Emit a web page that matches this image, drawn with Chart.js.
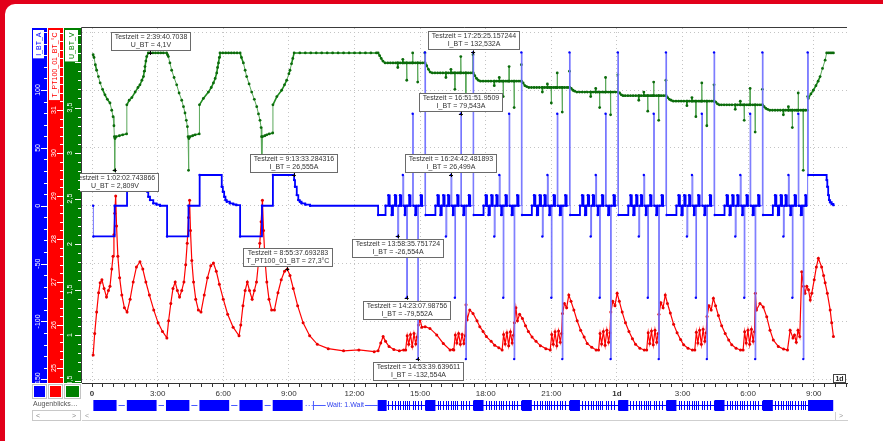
<!DOCTYPE html>
<html>
<head>
<meta charset="utf-8">
<title>Testzeit</title>
<script src="https://cdn.jsdelivr.net/npm/chart.js@4.4.1/dist/chart.umd.min.js"></script>
<style>
  html, body { margin: 0; padding: 0; background: #fff; }
  #frame { position: relative; width: 883px; height: 441px; background: #e2001a; overflow: hidden; }
  #card { position: absolute; left: 5px; top: 4px; width: 878px; height: 437px; background: #fff; border-top-left-radius: 10px; }
  #chart { position: absolute; left: 0; top: 0; }
</style>
</head>
<body>
<div id="frame"><div id="card"></div><canvas id="chart" width="883" height="441"></canvas></div>
<script>

const timeLabels = ['0', '3:00', '6:00', '9:00', '12:00', '15:00', '18:00', '21:00', '1d', '3:00', '6:00', '9:00'];
const boldLabels = ['0', '1d'];
const iTicks = [-150, -100, -50, 0, 50, 100, 150];
const tTicks = [25, 26, 27, 28, 29, 30, 31, 32];
const uTicks = [0.5, 1, 1.5, 2, 2.5, 3, 3.5, 4];

// U_BT [h, V]
const uBT = [
  [0.05,4.08],[0.09,4.05],[0.15,3.97],[0.21,3.91],[0.29,3.84],[0.37,3.77],[0.48,3.70],[0.59,3.64],[0.70,3.59],[0.82,3.55],[0.90,3.47],[0.96,3.40],[1.00,3.30],[1.02,3.18],[1.034,2.809],[1.05,3.16],[1.10,3.18],[1.25,3.19],[1.40,3.20],[1.58,3.21],[1.59,3.53],[1.70,3.58],[1.82,3.61],[1.97,3.67],[2.10,3.72],[2.19,3.75],[2.28,3.80],[2.35,3.84],[2.39,3.90],[2.42,3.95],[2.46,4.01],[2.50,4.06],[2.57,4.10],[2.661,4.10],[2.78,4.10],[2.90,4.10],[3.02,4.10],[3.14,4.10],[3.26,4.10],[3.41,4.10],
  [3.45,4.08],[3.49,4.06],[3.56,3.99],[3.64,3.91],[3.75,3.83],[3.87,3.75],[3.98,3.66],[4.10,3.58],[4.18,3.51],[4.25,3.44],[4.31,3.36],[4.36,3.29],[4.39,3.18],[4.41,2.81],[4.43,3.16],[4.48,3.18],[4.60,3.19],[4.71,3.20],[4.90,3.21],[4.91,3.53],[5.09,3.60],[5.32,3.67],[5.45,3.72],[5.55,3.77],[5.63,3.82],[5.70,3.88],[5.74,3.94],[5.78,3.99],[5.82,4.05],[5.85,4.10],[5.98,4.10],[6.11,4.10],[6.24,4.10],[6.37,4.10],[6.50,4.10],[6.63,4.10],[6.77,4.10],
  [6.83,4.05],[6.92,3.99],[7.00,3.91],[7.07,3.84],[7.18,3.76],[7.30,3.67],[7.42,3.59],[7.53,3.51],[7.61,3.43],[7.68,3.36],[7.73,3.28],[7.75,3.18],[7.77,2.81],[7.79,3.18],[7.90,3.19],[7.99,3.20],[8.10,3.21],[8.26,3.22],[8.27,3.53],[8.45,3.62],[8.67,3.69],[8.80,3.75],[8.90,3.80],[9.00,3.87],[9.05,3.91],[9.12,3.98],[9.18,4.04],[9.24,4.10],
  [9.50,4.10],[9.75,4.10],[10.00,4.10],[10.25,4.10],[10.50,4.10],[10.75,4.10],[11.00,4.10],[11.25,4.10],[11.50,4.10],[11.75,4.10],[12.00,4.10],[12.25,4.10],[12.50,4.10],[12.75,4.10],[13.00,4.10],
  [13.08,4.10],[13.15,4.07],[13.22,4.04],[13.30,4.01],[13.40,3.99],[13.52,3.99],[13.64,3.99],[13.76,3.99],[13.88,3.99],
  [13.97,3.99],[13.98,3.94],[13.99,3.99],[14.09,3.99],[14.20,3.99],[14.21,4.03],[14.22,3.99],[14.30,3.99],[14.38,3.99],[14.39,3.80],[14.40,3.99],[14.50,3.99],[14.58,3.99],[14.65,3.99],[14.66,4.10],[14.67,3.99],[14.78,3.99],[14.88,3.99],[14.89,3.78],[14.90,3.99],[15.00,3.99],[15.11,3.99],[15.21,3.99],[15.22,4.10],[15.23,3.99],[15.30,3.96],[15.38,3.92],[15.46,3.89],[15.56,3.88],[15.68,3.88],[15.80,3.88],[15.92,3.88],[16.04,3.88],
  [16.17,3.88],[16.18,3.83],[16.19,3.88],[16.29,3.88],[16.40,3.88],[16.41,3.92],[16.42,3.88],[16.50,3.88],[16.58,3.88],[16.59,3.70],[16.60,3.88],[16.70,3.88],[16.78,3.88],[16.85,3.88],[16.86,4.06],[16.87,3.88],[16.98,3.88],[17.08,3.88],[17.09,3.60],[17.10,3.88],[17.20,3.88],[17.31,3.88],[17.41,3.88],[17.42,4.08],[17.43,3.88],[17.50,3.85],[17.58,3.82],[17.66,3.80],[17.76,3.79],[17.88,3.79],[18.00,3.79],[18.12,3.79],[18.24,3.79],
  [18.38,3.79],[18.39,3.74],[18.40,3.79],[18.50,3.79],[18.61,3.79],[18.62,3.83],[18.63,3.79],[18.71,3.79],[18.79,3.79],[18.80,3.62],[18.81,3.79],[18.91,3.79],[18.99,3.79],[19.06,3.79],[19.07,3.95],[19.08,3.79],[19.19,3.79],[19.29,3.79],[19.30,3.50],[19.31,3.79],[19.41,3.79],[19.52,3.79],[19.62,3.79],[19.63,3.97],[19.64,3.79],[19.71,3.77],[19.79,3.74],[19.87,3.73],[19.97,3.72],[20.09,3.72],[20.21,3.72],[20.33,3.72],[20.45,3.72],
  [20.58,3.72],[20.59,3.67],[20.60,3.72],[20.70,3.72],[20.81,3.72],[20.82,3.76],[20.83,3.72],[20.91,3.72],[20.99,3.72],[21.00,3.55],[21.01,3.72],[21.11,3.72],[21.19,3.72],[21.26,3.72],[21.27,3.88],[21.28,3.72],[21.39,3.72],[21.49,3.72],[21.50,3.45],[21.51,3.72],[21.61,3.72],[21.72,3.72],[21.82,3.72],[21.83,3.90],[21.84,3.72],[21.91,3.71],[21.99,3.69],[22.07,3.68],[22.17,3.67],[22.29,3.67],[22.41,3.67],[22.53,3.67],[22.65,3.67],
  [22.79,3.67],[22.80,3.62],[22.81,3.67],[22.91,3.67],[23.02,3.67],[23.03,3.71],[23.04,3.67],[23.12,3.67],[23.20,3.67],[23.21,3.50],[23.22,3.67],[23.32,3.67],[23.40,3.67],[23.47,3.67],[23.48,3.83],[23.49,3.67],[23.60,3.67],[23.70,3.67],[23.71,3.42],[23.72,3.67],[23.82,3.67],[23.93,3.67],[24.03,3.67],[24.04,3.86],[24.05,3.67],[24.12,3.66],[24.20,3.64],[24.28,3.63],[24.38,3.63],[24.50,3.63],[24.62,3.63],[24.74,3.63],[24.86,3.63],
  [24.99,3.63],[25.00,3.58],[25.01,3.63],[25.11,3.63],[25.22,3.63],[25.23,3.67],[25.24,3.63],[25.32,3.63],[25.40,3.63],[25.41,3.46],[25.42,3.63],[25.52,3.63],[25.60,3.63],[25.67,3.63],[25.68,3.78],[25.69,3.63],[25.80,3.63],[25.90,3.63],[25.91,3.36],[25.92,3.63],[26.02,3.63],[26.13,3.63],[26.23,3.63],[26.24,3.80],[26.25,3.63],[26.32,3.61],[26.40,3.59],[26.48,3.58],[26.58,3.57],[26.70,3.57],[26.82,3.57],[26.94,3.57],[27.06,3.57],
  [27.19,3.57],[27.20,3.52],[27.21,3.57],[27.31,3.57],[27.42,3.57],[27.43,3.61],[27.44,3.57],[27.52,3.57],[27.60,3.57],[27.61,3.40],[27.62,3.57],[27.72,3.57],[27.80,3.57],[27.87,3.57],[27.88,3.77],[27.89,3.57],[28.00,3.57],[28.10,3.57],[28.11,3.30],[28.12,3.57],[28.22,3.57],[28.33,3.57],[28.43,3.57],[28.44,3.75],[28.45,3.57],[28.52,3.56],[28.60,3.54],[28.68,3.53],[28.78,3.53],[28.90,3.53],[29.02,3.53],[29.14,3.53],[29.26,3.53],
  [29.40,3.53],[29.41,3.48],[29.42,3.53],[29.52,3.53],[29.63,3.53],[29.64,3.57],[29.65,3.53],[29.73,3.53],[29.81,3.53],[29.82,3.36],[29.83,3.53],[29.93,3.53],[30.01,3.53],[30.08,3.53],[30.09,3.71],[30.10,3.53],[30.21,3.53],[30.31,3.53],[30.32,3.23],[30.33,3.53],[30.43,3.53],[30.54,3.53],[30.64,3.53],[30.65,3.70],[30.66,3.53],[30.73,3.51],[30.81,3.49],[30.89,3.48],[30.99,3.47],[31.11,3.47],[31.23,3.47],[31.35,3.47],[31.47,3.47],
  [31.60,3.47],[31.61,3.42],[31.62,3.47],[31.72,3.47],[31.83,3.47],[31.84,3.51],[31.85,3.47],[31.93,3.47],[32.01,3.47],[32.02,3.28],[32.03,3.47],[32.13,3.47],[32.21,3.47],[32.28,3.47],[32.29,3.66],[32.30,3.47],[32.41,3.47],[32.51,3.47],[32.52,2.81],[32.53,3.47],[32.62,3.47],[32.71,3.47],[32.72,3.62],[32.75,3.60],[32.87,3.65],[32.98,3.69],[33.10,3.74],[33.20,3.79],[33.29,3.84],[33.40,3.93],[33.52,4.02],[33.59,4.10],[33.67,4.10],[33.75,4.10],[33.83,4.10],[33.90,4.10]
];

// I_BT [h, A] (Stufenverlauf)
const iBT = [
  [0.05,0],[0.06,-26.55],[1.034,0],[1.60,26.55],[2.50,16.4],[2.53,12.1],[2.57,7.8],[2.65,4.9],[2.80,2.1],[2.95,1.0],[3.11,0],
  [3.43,-26.55],[4.41,0],[4.92,26.55],[5.93,16.4],[5.98,12.1],[6.04,7.8],[6.10,4.9],[6.16,3.5],[6.30,2.1],[6.46,1.2],[6.60,0.5],
  [6.77,-26.55],[7.77,0],[8.27,26.55],[9.226,26.555],[9.24,22.2],[9.28,16.4],[9.36,9.2],[9.43,4.9],[9.50,3.5],[9.58,2.1],[9.75,1.0],[9.97,0],
  [13.08,-8],[13.42,0],[13.55,9],[13.61,0],[13.70,-8],[13.76,0],[13.85,9],[13.91,0],
  [13.976,-26.554],[14.02,0],[14.08,9],[14.14,0],[14.21,26.5],[14.25,0],[14.30,-8],[14.36,0],[14.386,-79.552],[14.42,0],[14.50,9],[14.56,0],[14.66,79.54],[14.69,0],[14.78,-8],[14.84,0],[14.894,-132.554],[14.92,0],[15.03,9],[15.09,0],[15.22,132.53],[15.25,-8],[15.70,0],[15.80,9],[15.86,0],[15.93,-8],[15.99,0],[16.06,9],[16.12,0],
  [16.18,-26.55],[16.22,0],[16.28,9],[16.34,0],[16.412,26.499],[16.45,0],[16.50,-8],[16.56,0],[16.59,-79.55],[16.62,0],[16.70,9],[16.76,0],[16.864,79.543],[16.89,0],[16.98,-8],[17.04,0],[17.09,-132.55],[17.12,0],[17.23,9],[17.29,0],[17.424,132.532],[17.45,-8],[17.90,0],[18.00,9],[18.06,0],[18.13,-8],[18.19,0],[18.26,9],[18.32,0],
  [18.39,-26.55],[18.43,0],[18.49,9],[18.55,0],[18.62,26.5],[18.66,0],[18.71,-8],[18.77,0],[18.80,-79.55],[18.83,0],[18.91,9],[18.97,0],[19.07,79.54],[19.10,0],[19.19,-8],[19.25,0],[19.30,-132.55],[19.33,0],[19.44,9],[19.50,0],[19.63,132.53],[19.66,-8],[20.11,0],[20.21,9],[20.27,0],[20.34,-8],[20.40,0],[20.47,9],[20.53,0],
  [20.59,-26.55],[20.63,0],[20.69,9],[20.75,0],[20.82,26.5],[20.86,0],[20.91,-8],[20.97,0],[21.00,-79.55],[21.03,0],[21.11,9],[21.17,0],[21.27,79.54],[21.30,0],[21.39,-8],[21.45,0],[21.50,-132.55],[21.53,0],[21.64,9],[21.70,0],[21.83,132.53],[21.86,-8],[22.31,0],[22.41,9],[22.47,0],[22.54,-8],[22.60,0],[22.67,9],[22.73,0],
  [22.80,-26.55],[22.84,0],[22.90,9],[22.96,0],[23.03,26.5],[23.07,0],[23.12,-8],[23.18,0],[23.21,-79.55],[23.24,0],[23.32,9],[23.38,0],[23.48,79.54],[23.51,0],[23.60,-8],[23.66,0],[23.71,-132.55],[23.74,0],[23.85,9],[23.91,0],[24.04,132.53],[24.07,-8],[24.52,0],[24.62,9],[24.68,0],[24.75,-8],[24.81,0],[24.88,9],[24.94,0],
  [25.00,-26.55],[25.04,0],[25.10,9],[25.16,0],[25.23,26.5],[25.27,0],[25.32,-8],[25.38,0],[25.41,-79.55],[25.44,0],[25.52,9],[25.58,0],[25.68,79.54],[25.71,0],[25.80,-8],[25.86,0],[25.91,-132.55],[25.94,0],[26.05,9],[26.11,0],[26.24,132.53],[26.27,-8],[26.72,0],[26.82,9],[26.88,0],[26.95,-8],[27.01,0],[27.08,9],[27.14,0],
  [27.20,-26.55],[27.24,0],[27.30,9],[27.36,0],[27.43,26.5],[27.47,0],[27.52,-8],[27.58,0],[27.61,-79.55],[27.64,0],[27.72,9],[27.78,0],[27.88,79.54],[27.91,0],[28.00,-8],[28.06,0],[28.11,-132.55],[28.14,0],[28.25,9],[28.31,0],[28.44,132.53],[28.47,-8],[28.92,0],[29.02,9],[29.08,0],[29.15,-8],[29.21,0],[29.28,9],[29.34,0],
  [29.41,-26.55],[29.45,0],[29.51,9],[29.57,0],[29.64,26.5],[29.68,0],[29.73,-8],[29.79,0],[29.82,-79.55],[29.85,0],[29.93,9],[29.99,0],[30.09,79.54],[30.12,0],[30.21,-8],[30.27,0],[30.32,-132.55],[30.35,0],[30.46,9],[30.52,0],[30.65,132.53],[30.68,-8],[31.13,0],[31.23,9],[31.29,0],[31.36,-8],[31.42,0],[31.49,9],[31.55,0],
  [31.61,-26.55],[31.65,0],[31.71,9],[31.77,0],[31.84,26.5],[31.88,0],[31.93,-8],[31.99,0],[32.02,-79.55],[32.05,0],[32.13,9],[32.19,0],[32.29,79.54],[32.32,0],[32.41,-8],[32.47,0],[32.52,-132.55],[32.55,0],[32.62,9],[32.66,0],[32.72,132.53],[32.75,26.55],[33.59,22.2],[33.62,16.4],[33.66,9.2],[33.70,4.9],[33.75,3.0],[33.82,1.5],[33.90,0.5]
];

// T_PT100_01_BT [h, °C]
const tBT = [
  [0.05,25.30],[0.12,25.80],[0.21,26.30],[0.30,26.75],[0.37,26.98],[0.45,27.05],[0.55,26.85],[0.66,26.65],[0.75,26.80],[0.82,26.90],[0.90,27.30],[0.96,27.60],[1.00,28.10],[1.04,28.60],[1.08,29.00],[1.12,28.30],[1.18,27.60],[1.26,27.10],[1.36,26.70],[1.48,26.40],[1.60,26.30],[1.74,26.60],[1.88,27.00],[2.03,27.35],[2.19,27.47],[2.32,27.30],[2.46,27.00],[2.62,26.70],[2.82,26.35],[3.02,26.05],[3.22,25.85],[3.42,25.70],
  [3.50,26.10],[3.60,26.50],[3.70,26.85],[3.80,27.00],[3.90,26.80],[4.00,26.65],[4.10,26.80],[4.20,27.00],[4.28,27.40],[4.35,27.90],[4.41,28.50],[4.46,28.90],[4.50,28.20],[4.56,27.50],[4.64,27.00],[4.74,26.60],[4.86,26.35],[4.98,26.30],[5.13,26.70],[5.28,27.10],[5.43,27.38],[5.55,27.44],[5.68,27.25],[5.82,26.95],[6.00,26.60],[6.20,26.25],[6.45,25.95],[6.72,25.75],
  [6.80,26.00],[6.90,26.45],[7.00,26.80],[7.10,27.00],[7.20,26.80],[7.32,26.60],[7.42,26.80],[7.52,27.00],[7.60,27.40],[7.67,27.90],[7.73,28.40],[7.79,28.90],[7.84,28.20],[7.91,27.50],[7.99,27.00],[8.09,26.60],[8.21,26.35],[8.34,26.35],[8.50,26.75],[8.65,27.05],[8.80,27.25],[8.927,27.30],[9.05,27.15],[9.20,26.85],[9.40,26.45],[9.65,26.05],[9.95,25.75],[10.30,25.55],[10.80,25.45],[11.50,25.40],[12.20,25.42],[12.90,25.38],
  [13.08,25.40],[13.20,25.58],[13.31,25.73],[13.42,25.62],[13.58,25.50],[13.80,25.43],[14.05,25.40],[14.25,25.42],
  [14.34,25.42],[14.41,25.75],[14.48,25.55],[14.56,25.78],[14.64,25.50],[14.72,25.80],[14.80,25.56],[14.86,25.72],[14.92,26.00],[15.00,26.12],[15.08,25.95],[15.23,25.96],[15.45,25.92],[15.76,25.77],[16.06,25.57],[16.37,25.42],[16.50,25.43],
  [16.54,25.42],[16.61,25.77],[16.68,25.58],[16.76,25.80],[16.84,25.55],[16.92,25.78],[17.00,25.57],[17.06,25.75],[17.10,26.47],[17.15,26.12],[17.27,26.35],[17.42,26.27],[17.60,26.10],[17.73,25.96],[17.88,25.85],[18.03,25.73],[18.25,25.62],[18.41,25.53],[18.60,25.47],
  [18.75,25.42],[18.82,25.78],[18.89,25.56],[18.97,25.82],[19.05,25.52],[19.13,25.84],[19.21,25.58],[19.27,25.76],[19.31,26.05],[19.38,26.40],[19.45,26.10],[19.55,26.25],[19.68,26.15],[19.82,25.98],[19.95,25.85],[20.12,25.72],[20.30,25.62],[20.50,25.52],[20.75,25.45],
  [20.95,25.42],[21.02,25.78],[21.09,25.55],[21.17,25.84],[21.25,25.52],[21.33,25.86],[21.41,25.60],[21.47,25.80],[21.51,26.27],[21.60,26.50],[21.70,26.40],[21.80,26.70],[21.90,26.55],[22.03,26.35],[22.18,26.10],[22.34,25.88],[22.50,25.72],[22.64,25.57],[22.85,25.48],[23.05,25.42],
  [23.16,25.42],[23.23,25.80],[23.30,25.56],[23.38,25.85],[23.46,25.53],[23.54,25.88],[23.62,25.60],[23.68,25.82],[23.72,26.30],[23.81,26.55],[23.91,26.45],[24.01,26.74],[24.11,26.55],[24.24,26.30],[24.39,26.05],[24.55,25.85],[24.71,25.68],[24.85,25.55],[25.05,25.46],[25.25,25.42],
  [25.36,25.42],[25.43,25.82],[25.50,25.57],[25.58,25.86],[25.66,25.54],[25.74,25.88],[25.82,25.60],[25.88,25.80],[25.92,26.25],[26.01,26.52],[26.11,26.40],[26.21,26.70],[26.31,26.50],[26.44,26.28],[26.59,26.02],[26.75,25.82],[26.91,25.66],[27.05,25.54],[27.25,25.46],[27.45,25.42],
  [27.56,25.42],[27.63,25.83],[27.70,25.58],[27.78,25.88],[27.86,25.55],[27.94,25.90],[28.02,25.62],[28.08,25.82],[28.12,26.20],[28.21,26.45],[28.31,26.35],[28.41,26.62],[28.51,26.45],[28.64,26.22],[28.79,25.98],[28.95,25.80],[29.11,25.65],[29.25,25.54],[29.45,25.46],[29.65,25.42],
  [29.77,25.42],[29.84,25.84],[29.91,25.58],[29.99,25.88],[30.07,25.55],[30.15,25.90],[30.23,25.62],[30.29,25.84],[30.33,26.74],[30.38,26.35],[30.54,26.50],[30.69,26.42],[30.85,26.19],[31.00,25.88],[31.15,25.65],[31.38,25.50],[31.62,25.44],[31.80,25.42],
  [31.92,25.88],[32.05,25.70],[32.12,25.77],[32.20,25.60],[32.28,25.88],[32.36,25.73],[32.45,27.24],[32.53,26.90],[32.60,26.74],[32.68,26.90],[32.76,26.82],[32.84,26.58],[32.91,26.74],[33.02,27.05],[33.12,27.35],[33.21,27.55],[33.36,27.35],[33.45,27.15],[33.52,26.98],[33.62,26.74],[33.75,26.35],[33.82,26.05],[33.90,25.73]
];

// Prüfschritte in der Zeitleiste [von, bis]
const stepBlocks = [[0.06,1.12],[1.59,2.95],[3.38,4.45],[4.91,6.27],[6.74,7.80],[8.26,9.63],[13.06,13.47],[15.24,15.70],[17.44,17.90],[19.65,20.11],[21.85,22.31],[24.06,24.52],[26.26,26.72],[28.46,28.92],[30.67,31.13],[32.74,33.89]];
const waitStep = { from: 10.1, to: 13.06, label: 'Wait: 1.Wait' };

// Cursor-Beschriftungen
const notes = [
  { t: 2.661, axis: 'yU', v: 4.1, below: false, lines: ['Testzeit = 2:39:40.7038', 'U_BT = 4,1V'] },
  { t: 1.034, axis: 'yU', v: 2.809, below: true, lines: ['Testzeit = 1:02:02.743866', 'U_BT = 2,809V'] },
  { t: 9.226, axis: 'yI', v: 26.555, below: false, lines: ['Testzeit = 9:13:33.284316', 'I_BT = 26,555A'] },
  { t: 8.927, axis: 'yT', v: 27.3, below: false, lines: ['Testzeit = 8:55:37.693283', 'T_PT100_01_BT = 27,3°C'] },
  { t: 13.976, axis: 'yI', v: -26.554, below: true, lines: ['Testzeit = 13:58:35.751724', 'I_BT = -26,554A'] },
  { t: 14.386, axis: 'yI', v: -79.552, below: true, lines: ['Testzeit = 14:23:07.98756', 'I_BT = -79,552A'] },
  { t: 14.894, axis: 'yI', v: -132.554, below: true, lines: ['Testzeit = 14:53:39.639611', 'I_BT = -132,554A'] },
  { t: 16.412, axis: 'yI', v: 26.499, below: false, lines: ['Testzeit = 16:24:42.481893', 'I_BT = 26,499A'] },
  { t: 16.864, axis: 'yI', v: 79.543, below: false, lines: ['Testzeit = 16:51:51.9509', 'I_BT = 79,543A'] },
  { t: 17.424, axis: 'yI', v: 132.532, below: false, lines: ['Testzeit = 17:25:25.157244', 'I_BT = 132,532A'] }
];

const FONT = "'Liberation Sans', Arial, sans-serif";
Chart.defaults.font.family = FONT;

const strips = [
  { id: 'yI', color: '#0000ff', title: 'I_BT_A', labels: iTicks },
  { id: 'yT', color: '#ff0000', title: 'T_PT100_01_BT_°C', labels: tTicks },
  { id: 'yU', color: '#008000', title: 'U_BT_V', labels: uTicks }
];

const xy = arr => arr.map(([x, y]) => ({ x, y }));
const labelAt = v => {
  const k = v / 3;
  return Math.abs(k - Math.round(k)) < 1e-6 ? (timeLabels[Math.round(k)] || '') : '';
};
// schmale senkrechte Sprünge werden dünn und hell gezeichnet
const thinJump = (minDy, light) => {
  const isJump = c => Math.abs(c.p1.x - c.p0.x) < 3 && Math.abs(c.p1.y - c.p0.y) > minDy;
  return {
    borderColor: c => isJump(c) ? light : undefined,
    borderWidth: c => isJump(c) ? 1 : undefined
  };
};

const chrome = {
  id: 'chrome',
  beforeDraw(chart) {
    const { ctx, chartArea: a } = chart;
    ctx.save();
    strips.forEach(st => {
      const s = chart.scales[st.id];
      ctx.fillStyle = st.color;
      ctx.fillRect(s.left, a.top, s.right - s.left - 1, a.bottom - a.top);
    });
    ctx.restore();
  },
  afterDraw(chart) {
    const { ctx, chartArea: a, scales } = chart;
    const sx = scales.x;
    ctx.save();

    // Achsenstreifen
    strips.forEach(st => {
      const s = scales[st.id];
      const w = s.right - s.left - 1;
      const r = s.right - 1;
      ctx.save();
      ctx.beginPath();
      ctx.rect(s.left, a.top, w, a.bottom - a.top);
      ctx.clip();
      ctx.strokeStyle = '#fff';
      ctx.lineWidth = 1;
      s.ticks.forEach(tk => {
        const y = Math.round(s.getPixelForValue(tk.value)) + 0.5;
        const major = st.labels.some(v => Math.abs(v - tk.value) < 1e-6);
        ctx.beginPath();
        ctx.moveTo(r, y);
        ctx.lineTo(r - (major ? 6 : 3), y);
        ctx.stroke();
      });
      ctx.font = '7px ' + FONT;
      const tw = ctx.measureText(st.title).width;
      const titleBottom = a.top + 2 + tw + 5;
      ctx.fillStyle = '#fff';
      ctx.textAlign = 'center';
      ctx.textBaseline = 'middle';
      st.labels.forEach(v => {
        const y = s.getPixelForValue(v);
        if (y < titleBottom + 8) return;
        ctx.save();
        ctx.translate(s.left + 6.5, y);
        ctx.rotate(-Math.PI / 2);
        ctx.fillText(String(v).replace('.', ','), 0, 0);
        ctx.restore();
      });
      ctx.fillStyle = '#fff';
      ctx.fillRect(s.left + 1, a.top + 2, w - 4, tw + 5);
      ctx.save();
      ctx.translate(s.left + 1 + (w - 4) / 2, titleBottom - 2.5);
      ctx.rotate(-Math.PI / 2);
      ctx.fillStyle = st.color;
      ctx.textAlign = 'left';
      ctx.fillText(st.title, 0, 0.5);
      ctx.restore();
      ctx.restore();
    });

    // Rahmen des Diagramms
    ctx.strokeStyle = '#3a3a3a';
    ctx.lineWidth = 1;
    ctx.beginPath();
    ctx.moveTo(a.left - 0.5, a.bottom);
    ctx.lineTo(a.left - 0.5, a.top - 0.5);
    ctx.lineTo(a.right, a.top - 0.5);
    ctx.stroke();

    // Cursor-Boxen
    ctx.save();
    ctx.beginPath();
    ctx.rect(a.left - 2, a.top, a.right - a.left + 2, a.bottom - a.top);
    ctx.clip();
    ctx.font = '7px ' + FONT;
    notes.forEach(n => {
      const px = sx.getPixelForValue(n.t);
      const py = scales[n.axis].getPixelForValue(n.v);
      const w = Math.ceil(Math.max(...n.lines.map(l => ctx.measureText(l).width))) + 6;
      const h = 18;
      const bx = Math.round(px - w / 2) + 0.5;
      const by = n.below ? Math.round(py + 3) + 0.5 : Math.round(py - 3 - h) + 0.5;
      ctx.fillStyle = '#fff';
      ctx.fillRect(bx, by, w, h);
      ctx.strokeStyle = '#6a6a6a';
      ctx.strokeRect(bx, by, w, h);
      ctx.fillStyle = '#333';
      ctx.textAlign = 'center';
      ctx.textBaseline = 'middle';
      ctx.fillText(n.lines[0], bx + w / 2, by + 5);
      ctx.fillText(n.lines[1], bx + w / 2, by + 13);
      ctx.strokeStyle = '#000';
      ctx.beginPath();
      ctx.moveTo(px - 2, Math.round(py) + 0.5);
      ctx.lineTo(px + 2, Math.round(py) + 0.5);
      ctx.moveTo(Math.round(px) + 0.5, py - 2);
      ctx.lineTo(Math.round(px) + 0.5, py + 2);
      ctx.stroke();
    });
    ctx.restore();

    // "1d"-Kästchen rechts unten
    ctx.fillStyle = '#fff';
    ctx.fillRect(a.right - 13.5, a.bottom - 8.5, 12, 8);
    ctx.strokeStyle = '#444';
    ctx.strokeRect(a.right - 13.5, a.bottom - 8.5, 12, 8);
    ctx.fillStyle = '#222';
    ctx.font = 'bold 7px ' + FONT;
    ctx.textAlign = 'center';
    ctx.textBaseline = 'middle';
    ctx.fillText('1d', a.right - 7.5, a.bottom - 4.2);

    // Legende unter den Streifen
    const ly = a.bottom + 3;
    strips.forEach(st => {
      const s = scales[st.id];
      const w = s.right - s.left - 1;
      ctx.strokeStyle = '#c4c4c4';
      ctx.strokeRect(s.left + 0.5, ly - 1.5, w - 1, 14);
      ctx.fillStyle = st.color;
      ctx.fillRect(s.left + 2, ly, w - 4, 11);
    });
    ctx.fillStyle = '#555';
    ctx.font = '7px ' + FONT;
    ctx.textAlign = 'left';
    ctx.fillText('Augenblicks…', 33, a.bottom + 21);
    ctx.strokeStyle = '#c8c8c8';
    ctx.strokeRect(32.5, a.bottom + 27.5, 48, 10);
    ctx.fillStyle = '#888';
    ctx.fillText('<', 36, a.bottom + 33);
    ctx.fillText('>', 72, a.bottom + 33);

    // Zeitleiste der Prüfschritte
    const ty = a.bottom + 17;
    const mid = ty + 5.5;
    const px = t => sx.getPixelForValue(t);
    ctx.strokeStyle = '#4a5cff';
    ctx.lineWidth = 1;
    for (let i = 0; i < 5; i++) {
      const x1 = px(stepBlocks[i][1]) + 2, x2 = px(stepBlocks[i + 1][0]) - 2;
      ctx.beginPath();
      ctx.moveTo(x1, mid);
      ctx.lineTo(x1 + 4, mid);
      ctx.moveTo(x2 - 4, mid);
      ctx.lineTo(x2, mid);
      ctx.stroke();
      ctx.fillStyle = '#4a5cff';
      ctx.fillRect((x1 + x2) / 2 - 1, mid - 0.5, 2, 1);
    }
    const w0 = px(stepBlocks[5][1]) + 3;
    const w1 = px(waitStep.from);
    ctx.fillStyle = '#4a5cff';
    ctx.fillRect(w0, mid - 0.5, 1, 1);
    ctx.fillRect(w0 + 3, mid - 0.5, 1, 1);
    ctx.fillRect(w0 + 6, mid - 0.5, 1, 1);
    ctx.beginPath();
    ctx.moveTo(w1 + 0.5, ty + 1);
    ctx.lineTo(w1 + 0.5, ty + 10);
    ctx.moveTo(w1, mid);
    ctx.lineTo(px(waitStep.to), mid);
    ctx.stroke();
    ctx.font = '7px ' + FONT;
    const wc = px((waitStep.from + waitStep.to) / 2);
    const wtw = ctx.measureText(waitStep.label).width;
    ctx.fillStyle = '#fff';
    ctx.fillRect(wc - wtw / 2 - 1, ty + 1, wtw + 2, 9);
    ctx.fillStyle = '#3344ee';
    ctx.textAlign = 'center';
    ctx.fillText(waitStep.label, wc, mid);
    ctx.strokeStyle = '#0000ff';
    ctx.beginPath();
    ctx.moveTo(px(13.47), mid);
    ctx.lineTo(px(32.74), mid);
    for (let i = 1; i < iBT.length; i++) {
      const [t, v] = iBT[i];
      if (t > 13.47 && v !== 0 && iBT[i - 1][1] === 0) {
        const x = Math.round(px(t)) + 0.5;
        ctx.moveTo(x, ty + 1);
        ctx.lineTo(x, ty + 10);
      }
    }
    ctx.stroke();
    ctx.fillStyle = '#0000ff';
    stepBlocks.forEach(([t0, t1]) => {
      ctx.fillRect(px(t0), ty, px(t1) - px(t0), 11);
    });

    // Bildlaufleiste
    ctx.strokeStyle = '#cfcfcf';
    ctx.beginPath();
    ctx.moveTo(a.left, a.bottom + 37.5);
    ctx.lineTo(a.right + 1, a.bottom + 37.5);
    ctx.moveTo(a.right - 11.5, a.bottom + 29);
    ctx.lineTo(a.right - 11.5, a.bottom + 37.5);
    ctx.stroke();
    ctx.fillStyle = '#999';
    ctx.textAlign = 'left';
    ctx.fillText('<', a.left + 3, a.bottom + 33);
    ctx.fillText('>', a.right - 8, a.bottom + 33);

    ctx.restore();
  }
};

new Chart(document.getElementById('chart'), {
  type: 'line',
  data: {
    datasets: [
      { label: 'I_BT', data: xy(iBT), yAxisID: 'yI', stepped: true, borderColor: '#0000ff', borderWidth: 1.8,
        pointRadius: 1.2, pointBackgroundColor: '#0000ff', pointBorderWidth: 0,
        segment: thinJump(20, '#7272ff') },
      { label: 'U_BT', data: xy(uBT), yAxisID: 'yU', borderColor: '#1f8c1f', borderWidth: 1.6,
        pointRadius: 1.4, pointBackgroundColor: '#0b6b0b', pointBorderWidth: 0,
        segment: thinJump(6, '#5aa85a') },
      { label: 'T_PT100_01_BT', data: xy(tBT), yAxisID: 'yT', borderColor: '#ff0000', borderWidth: 1.2,
        pointRadius: 1.5, pointBackgroundColor: '#e80000', pointBorderWidth: 0 }
    ]
  },
  options: {
    responsive: false,
    animation: false,
    devicePixelRatio: 1,
    events: [],
    layout: { padding: { left: 32, top: 28, right: 36, bottom: 44 } },
    plugins: { legend: { display: false }, tooltip: { enabled: false } },
    scales: {
      x: {
        type: 'linear', min: -0.46, max: 34.52,
        ticks: {
          stepSize: 0.5, autoSkip: false, maxRotation: 0, includeBounds: false, padding: 2, color: '#333',
          font: c => ({ size: 8, weight: (c.tick && boldLabels.includes(labelAt(c.tick.value))) ? 'bold' : 'normal' }),
          callback: v => labelAt(v)
        },
        grid: {
          color: c => (c.tick && labelAt(c.tick.value) !== '') ? '#c4c4c4' : 'rgba(0,0,0,0)',
          tickColor: '#333', tickLength: 4
        },
        border: { display: true, color: '#333', dash: [1, 3] },
        afterFit: s => { s.height = 14; }
      },
      yU: {
        position: 'left', weight: 1, min: 0.473, max: 4.374,
        ticks: { display: false, stepSize: 0.1, includeBounds: false },
        grid: { display: false },
        border: { display: false },
        afterFit: s => { s.width = 18; }
      },
      yT: {
        position: 'left', weight: 2, min: 24.651, max: 32.907,
        ticks: { display: false, stepSize: 0.2, includeBounds: false },
        grid: { display: false },
        border: { display: false },
        afterFit: s => { s.width = 16; }
      },
      yI: {
        position: 'left', weight: 3, min: -153.2, max: 153.6,
        ticks: { display: false, stepSize: 10, includeBounds: false },
        grid: {
          drawTicks: false,
          color: c => (c.tick && Math.abs(c.tick.value % 50) < 1e-6) ? '#c4c4c4' : 'rgba(0,0,0,0)'
        },
        border: { display: false, dash: [1, 3] },
        afterFit: s => { s.width = 16; }
      }
    }
  },
  plugins: [chrome]
});
</script>
</body>
</html>
